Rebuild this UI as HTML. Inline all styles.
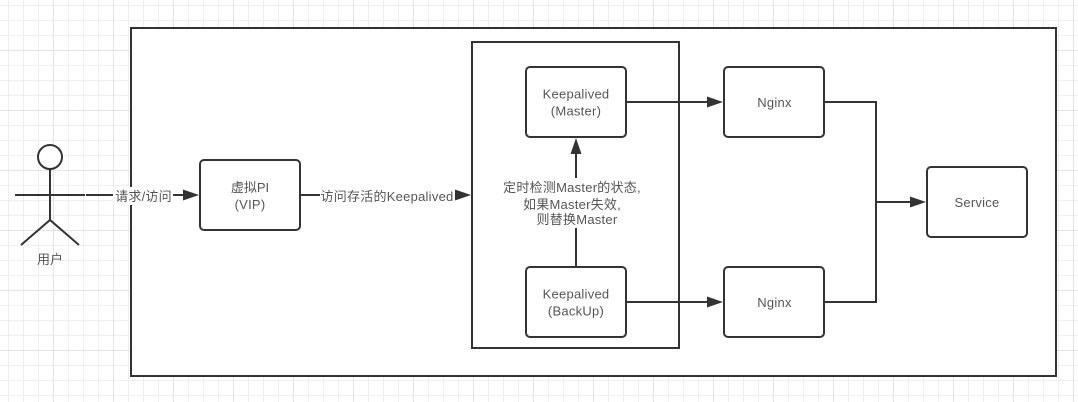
<!DOCTYPE html>
<html>
<head>
<meta charset="utf-8">
<style>
html,body{margin:0;padding:0;background:#fff;width:1078px;height:402px;overflow:hidden}
svg{display:block}
text{font-family:"Liberation Sans","Noto Sans CJK SC",sans-serif;font-size:13px;fill:#555;text-anchor:middle}
.l{letter-spacing:.25px}
</style>
</head>
<body>
<svg width="1078" height="402" viewBox="0 0 1078 402" xmlns="http://www.w3.org/2000/svg">
<defs>
<pattern id="g" width="60" height="60" patternUnits="userSpaceOnUse" x="-7" y="-10">
<path d="M0.5 0V60M15.5 0V60M30.5 0V60M45.5 0V60M0 0.5H60M0 15.5H60M0 30.5H60M0 45.5H60" stroke="#efefef" stroke-width="1" fill="none"/>
<path d="M0.5 0V60M0 0.5H60" stroke="#e3e3e3" stroke-width="1" fill="none"/>
</pattern>
</defs>
<rect width="1078" height="402" fill="#fff"/>
<rect width="1078" height="402" fill="url(#g)"/>

<rect x="131" y="28" width="925" height="348" fill="#fff" stroke="#333" stroke-width="2"/>
<rect x="472" y="42" width="207" height="306" fill="#fff" stroke="#333" stroke-width="2"/>

<g fill="#fff" stroke="#333" stroke-width="2">
<rect x="200" y="160" width="100" height="70" rx="4"/>
<rect x="526" y="67" width="100" height="70" rx="4"/>
<rect x="526" y="267" width="100" height="70" rx="4"/>
<rect x="724" y="67" width="100" height="70" rx="4"/>
<rect x="724" y="267" width="100" height="70" rx="4"/>
<rect x="927" y="167" width="100" height="70" rx="4"/>
</g>

<g fill="none" stroke="#333" stroke-width="2">
<circle cx="50" cy="157" r="12" fill="#fff"/>
<path d="M50 169V220M15 195H85M21 245L50 220L79 245"/>
<path d="M86 195H186"/>
<path d="M300 195H458"/>
<path d="M576 267V150"/>
<path d="M626 102H711"/>
<path d="M626 302H711"/>
<path d="M824 102H876V302H824"/>
<path d="M876 202H914"/>
</g>
<g fill="#333">
<path d="M199 195L183 189.5V200.500Z"/>
<path d="M471 195L455 189.500V200.500Z"/>
<path d="M576 138L570.500 154H581.500Z"/>
<path d="M723 102L707 96.500V107.500Z"/>
<path d="M723 302L707 296.500V307.500Z"/>
<path d="M926 202L910 196.500V207.500Z"/>
</g>

<g fill="#fff">
<rect x="113" y="187" width="60" height="18"/>
<rect x="320" y="187" width="135" height="18"/>
<rect x="502" y="178" width="140" height="50"/>
</g>

<text x="50" y="264">用户</text>
<text x="143.500" y="201" class="l">请求/访问</text>
<text x="250" y="192">虚拟PI</text>
<text x="250" y="209" class="l">(VIP)</text>
<text x="387" y="201" class="l">访问存活的Keepalived</text>
<text x="572" y="192" class="l">定时检测Master的状态,</text>
<text x="572" y="209" class="l">如果Master失效,</text>
<text x="577" y="224" class="l">则替换Master</text>
<text x="576" y="98.500" class="l">Keepalived</text>
<text x="576" y="115.500" class="l">(Master)</text>
<text x="576" y="298.500" class="l">Keepalived</text>
<text x="576" y="315.500" class="l">(BackUp)</text>
<text x="774.500" y="107" class="l">Nginx</text>
<text x="774.500" y="307" class="l">Nginx</text>
<text x="977" y="207" class="l">Service</text>
</svg>
</body>
</html>
